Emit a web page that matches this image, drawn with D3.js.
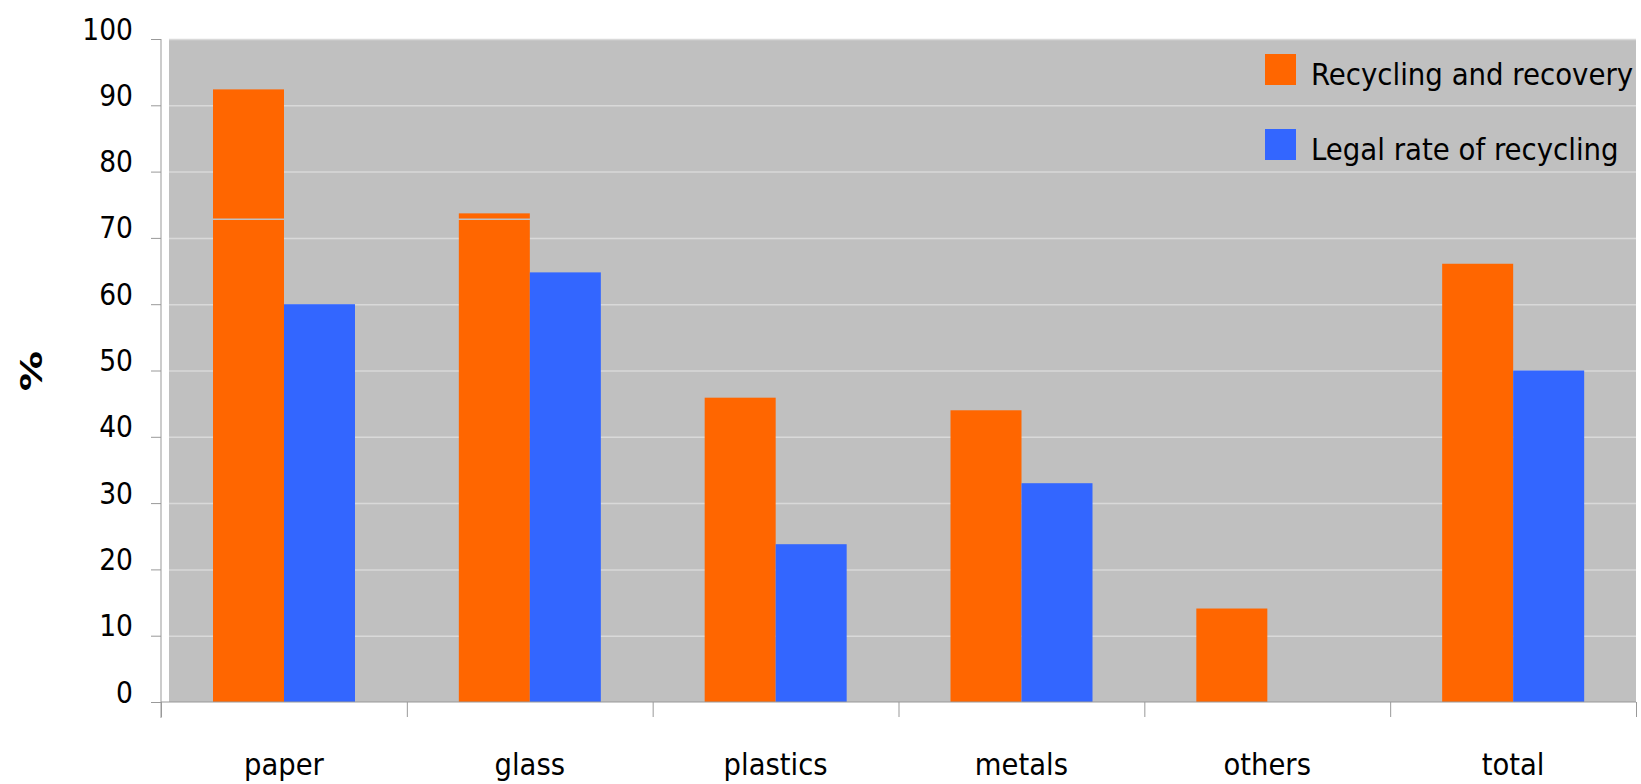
<!DOCTYPE html>
<html>
<head>
<meta charset="utf-8">
<script src="https://cdn.jsdelivr.net/npm/d3@7"></script>
<style>
  body { margin: 0; background: #fff; }
  svg text { font-family: "DejaVu Sans Condensed", "DejaVu Sans", sans-serif; fill: #000; }
</style>
</head>
<body>
<svg id="chart" width="1641" height="784"></svg>
<script>
// chart data
var categories = ['paper', 'glass', 'plastics', 'metals', 'others', 'total'];
var seriesNames = ['Recycling and recovery', 'Legal rate of recycling'];
var recovery = [92.4, 73.7, 45.9, 44, 14.1, 66.1];
var legalRate = [60, 64.8, 23.8, 33, null, 50];
var yTicks = [0, 10, 20, 30, 40, 50, 60, 70, 80, 90, 100];
var colors = ['#ff6600', '#3366ff'];

var svg = d3.select('#chart');

var axisX = 161, plotLeft = 169, plotRight = 1636, plotTop = 39, plotBottom = 702;

var x0 = d3.scaleBand().domain(categories).range([axisX, plotRight]).padding(0);
var x1 = d3.scaleBand().domain(seriesNames).range([0, x0.bandwidth()]).paddingInner(0).paddingOuter(0.73);
var y = d3.scaleLinear().domain([0, 100]).range([plotBottom, plotTop]);

// grey plot background
svg.append('rect')
  .attr('x', plotLeft).attr('y', plotTop)
  .attr('width', plotRight - plotLeft).attr('height', plotBottom - plotTop)
  .attr('fill', '#c0c0c0');

// gridlines
svg.append('g').selectAll('line').data(yTicks.filter(d => d > 0)).enter()
  .append('line')
  .attr('x1', plotLeft).attr('x2', plotRight)
  .attr('y1', d => y(d) + 0.5).attr('y2', d => y(d) + 0.5)
  .attr('stroke', '#d9d9d9').attr('stroke-width', 1.5);

// bars
var rows = categories.map((c, i) => ({ cat: c, values: [recovery[i], legalRate[i]] }));
var groups = svg.append('g').selectAll('g').data(rows).enter()
  .append('g')
  .attr('transform', d => 'translate(' + x0(d.cat) + ',0)');

groups.selectAll('rect')
  .data(d => d.values.map((v, j) => ({ key: seriesNames[j], value: v, j: j })).filter(d => d.value != null))
  .enter()
  .append('rect')
  .attr('x', d => Math.round(x1(d.key)))
  .attr('width', Math.round(x1.bandwidth()))
  .attr('y', d => y(d.value))
  .attr('height', d => plotBottom - y(d.value))
  .attr('fill', d => colors[d.j]);

// faint stray line across the bars in the original
svg.append('line')
  .attr('x1', plotLeft).attr('x2', plotRight)
  .attr('y1', y(72.8)).attr('y2', y(72.8))
  .attr('stroke', '#c0c0c0').attr('stroke-width', 1.5);

// y axis
var yAxis = d3.axisLeft(y).tickValues(yTicks).tickSize(10).tickPadding(18);
var gy = svg.append('g').attr('transform', 'translate(' + axisX + ',0)').call(yAxis);
gy.select('.domain').remove();
gy.selectAll('.tick line').attr('stroke', '#999');
gy.selectAll('.tick text')
  .attr('dy', 0)
  .attr('x', -28)
  .style('font-size', '29.5px');
gy.append('line')
  .attr('x1', 0).attr('x2', 0)
  .attr('y1', plotTop).attr('y2', plotBottom + 16)
  .attr('stroke', '#999');

// x axis
var gx = svg.append('g').attr('transform', 'translate(0,' + plotBottom + ')');
gx.append('line')
  .attr('x1', axisX).attr('x2', plotRight)
  .attr('stroke', '#999');
var bounds = categories.map(c => x0(c)).concat([plotRight]);
gx.selectAll('.tk').data(bounds).enter()
  .append('line').attr('class', 'tk')
  .attr('x1', d => d + 0.5).attr('x2', d => d + 0.5)
  .attr('y1', 0).attr('y2', 15)
  .attr('stroke', '#999');
gx.selectAll('text').data(categories).enter()
  .append('text')
  .attr('x', d => x0(d) + x0.bandwidth() / 2)
  .attr('y', 73)
  .attr('text-anchor', 'middle')
  .style('font-size', '30.5px')
  .text(d => d);

// y axis title
svg.append('text')
  .attr('transform', 'translate(42,371) rotate(-90) scale(1.3,1)')
  .attr('text-anchor', 'middle')
  .style('font-size', '31px')
  .style('font-weight', 'bold')
  .style('font-family', '"DejaVu Sans", sans-serif')
  .text('%');

// legend
var legend = svg.append('g').selectAll('g').data(seriesNames).enter()
  .append('g')
  .attr('transform', (d, i) => 'translate(1265,' + (54 + i * 75) + ')');
legend.append('rect')
  .attr('width', 31).attr('height', 31)
  .attr('fill', (d, i) => colors[i]);
legend.append('text')
  .attr('x', 46).attr('y', 31)
  .style('font-size', '30.7px')
  .text(d => d);
</script>
</body>
</html>
